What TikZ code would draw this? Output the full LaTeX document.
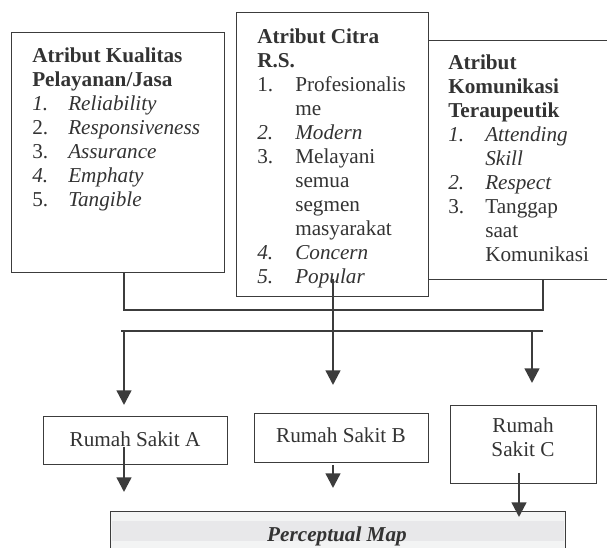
\documentclass[tikz,border=0pt]{standalone}
\usepackage{fontspec}
\setmainfont{Liberation Serif}
\usepackage{array}
\usetikzlibrary{arrows.meta}
\definecolor{ink}{HTML}{3C3C3C}
\definecolor{txt}{HTML}{333333}
\definecolor{pmfill}{HTML}{F3F4F4}
\definecolor{pmband}{HTML}{E8E8EA}
\newcommand{\hd}[1]{\multicolumn{2}{@{}l@{}}{\textbf{#1}}}
\begin{document}
\begin{tikzpicture}[x=0.75pt,y=-0.75pt,
  box/.style={draw=ink, line width=1.1pt, fill=white, inner sep=0pt, anchor=north west},
  txtnode/.style={anchor=base west, inner sep=0pt, text=txt, font=\fontsize{15.9}{18}\selectfont},
  rsnode/.style={inner sep=0pt, text=txt, align=center, font=\fontsize{15.9}{18}\selectfont},
  link/.style={draw=ink, line width=1.1pt},
  arr/.style={draw=ink, line width=1.8pt, -{Triangle[width=11pt,length=11pt]}}]
\useasboundingbox (0,0) rectangle (607,548);
\clip (0,0) rectangle (607,548);

% attribute boxes
\node[box, minimum width=180pt, minimum height=179.25pt] (b3) at (400,40) {};
\node[box, minimum width=144pt, minimum height=213pt] (b2) at (236,12) {};
\node[box, minimum width=159.75pt, minimum height=180pt] (b1) at (11,32) {};

\node[txtnode] (t1) at (32,63) {\begin{tabular}[t]{@{}p{27pt}@{}l@{}}
\hd{Atribut Kualitas}\\
\hd{Pelayanan/Jasa}\\
\textit{1.} & \textit{Reliability}\\
2. & \textit{Responsiveness}\\
3. & \textit{Assurance}\\
\textit{4.} & \textit{Emphaty}\\
5. & \textit{Tangible}
\end{tabular}};

\node[txtnode] (t2) at (257,44) {\begin{tabular}[t]{@{}p{28.5pt}@{}l@{}}
\hd{Atribut Citra}\\
\hd{R.S.}\\
1. & Profesionalis\\
 & me\\
\textit{2.} & \textit{Modern}\\
3. & Melayani\\
 & semua\\
 & segmen\\
 & masyarakat\\
\textit{4.} & \textit{Concern}\\
\textit{5.} & \textit{Popular}
\end{tabular}};

\node[txtnode] (t3) at (448,70) {\begin{tabular}[t]{@{}p{27.75pt}@{}l@{}}
\hd{Atribut}\\
\hd{Komunikasi}\\
\hd{Teraupeutik}\\
\textit{1.} & \textit{Attending}\\
 & \textit{Skill}\\
\textit{2.} & \textit{Respect}\\
3. & Tanggap\\
 & saat\\
 & Komunikasi
\end{tabular}};

% hospital boxes
\node[box, minimum width=138pt, minimum height=36pt] (ra) at (43,416) {};
\node[rsnode, anchor=base] (ta) at (135,447) {Rumah Sakit A};
\node[box, minimum width=130.5pt, minimum height=36.75pt] (rb) at (254,413) {};
\node[rsnode, anchor=base] (tb) at (341,443) {Rumah Sakit B};
\node[box, minimum width=109.5pt, minimum height=58.5pt] (rc) at (450,405) {};
\node[rsnode, anchor=base] (tc1) at (523,433) {Rumah};
\node[rsnode, anchor=base] (tc2) at (523,457) {Sakit C};

% perceptual map
\node[box, fill=pmfill, minimum width=341.25pt, minimum height=45pt] (pm) at (110,511) {};
\fill[pmband] (111.5,521) rectangle (563.5,541);
\node[rsnode, anchor=base, font=\fontsize{15.9}{18}\selectfont\bfseries\itshape] (tpm) at (337,542) {Perceptual Map};

% bracket joining the three attribute boxes
\coordinate (j1) at (124,310);
\coordinate (j3) at (543,310);
\draw[link] (b1.south -| j1) -- (j1) -- (j3) -- (b3.south -| j3);

% distribution bar
\coordinate (d0) at (121,331);
\coordinate (d1) at (543,331);
\draw[link] (d0) -- (d1);
\coordinate (dl) at (124,331);
\coordinate (dr) at (532,331);
\coordinate (al) at (124,405);
\coordinate (ar) at (532,383);
\coordinate (m0) at (333,279);
\coordinate (m1) at (333,385);
\draw[arr] (dl) -- (al);
\draw[arr] (dr) -- (ar);
\draw[arr] (m0) -- (m1);

% arrows into the perceptual map
\coordinate (a0) at (124,447);
\coordinate (a1) at (124,492);
\coordinate (bb0) at (333,465);
\coordinate (bb1) at (333,488);
\coordinate (c0) at (519,473);
\coordinate (c1) at (519,517);
\draw[arr] (a0) -- (a1);
\draw[arr] (bb0) -- (bb1);
\draw[arr] (c0) -- (c1);
\end{tikzpicture}
\end{document}
